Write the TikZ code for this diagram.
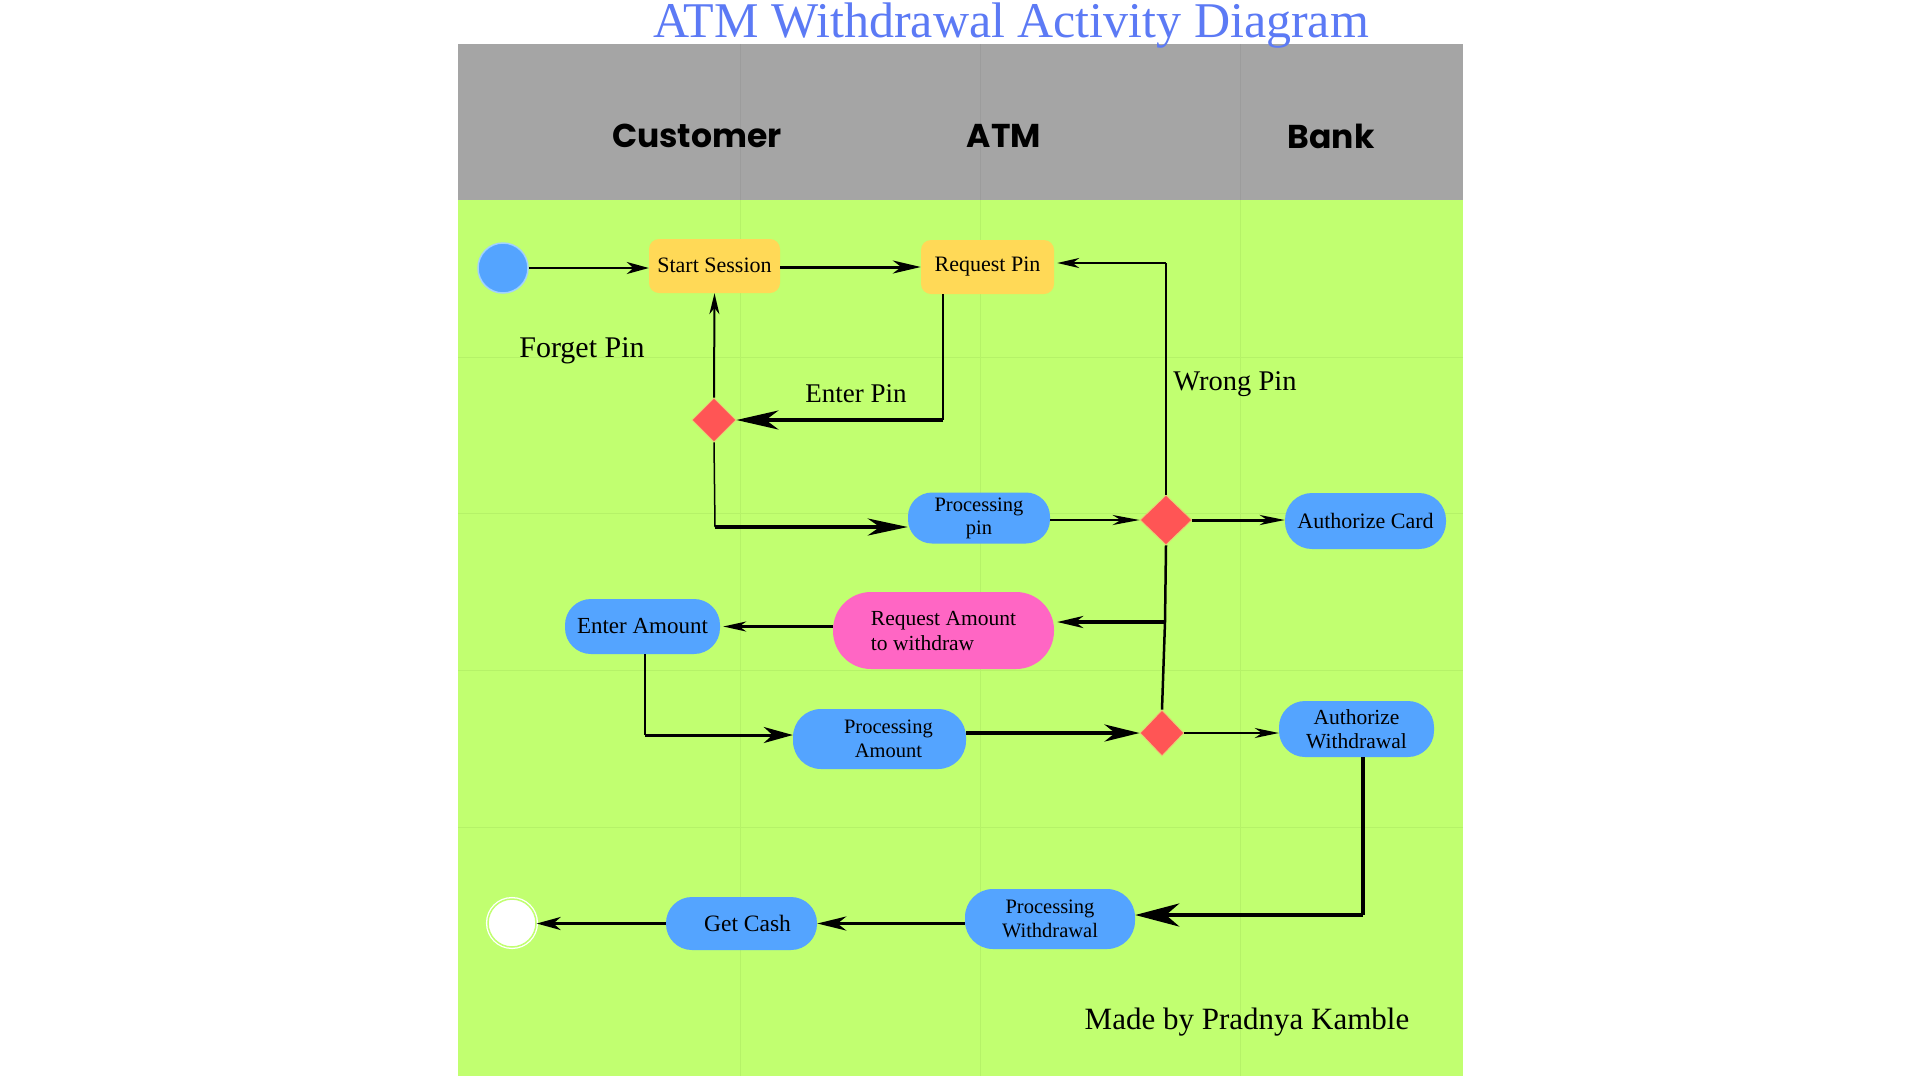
\documentclass[tikz,border=0pt]{standalone}
\usepackage{fontspec}
\setmainfont{Liberation Serif}
\newfontfamily\hdrfont{Poppins}
\usetikzlibrary{arrows.meta,shapes.geometric}
\definecolor{bggreen}{RGB}{193,255,112}
\definecolor{gridgreen}{RGB}{181,242,104}
\definecolor{hdrgray}{RGB}{165,165,165}
\definecolor{gridgray}{RGB}{156,156,156}
\definecolor{actyellow}{RGB}{255,217,87}
\definecolor{actblue}{RGB}{84,164,255}
\definecolor{actpink}{RGB}{255,102,196}
\definecolor{decred}{RGB}{255,85,85}
\definecolor{decedge}{RGB}{232,205,120}
\definecolor{titleblue}{RGB}{92,122,245}
\definecolor{ringblue}{RGB}{160,210,255}
\newcommand\fsz[2]{\fontsize{#1pt}{#2pt}\selectfont}
\tikzset{
  yact/.style={fill=actyellow, rounded corners=10pt, inner sep=0pt, align=center},
  bact/.style={fill=actblue, inner sep=0pt, align=center},
  dec/.style={diamond, fill=decred, draw=decedge, line width=0.8pt, inner sep=0pt},
  lbl/.style={inner sep=0pt},
  lanehdr/.style={inner sep=0pt, font=\hdrfont\bfseries\fsz{33}{33}},
  gridln/.style={line width=1pt},
  conn/.style={draw=black, line cap=butt},
  tipA/.style n args={2}{-{Stealth[length=#1pt,width=#2pt,inset=0.3*#1pt]}}
}
\begin{document}
\begin{tikzpicture}[x=1pt,y=-1pt]
\useasboundingbox (0,0) rectangle (1920,1080);
\fill[white] (0,0) rectangle (1920,1080);
% panels
\fill[hdrgray] (458,44) rectangle (1463,200);
\fill[bggreen] (458,200) rectangle (1463,1076);
% grid
\foreach \gx in {740,980,1240}{
  \draw[gridln,gridgray] (\gx,44) -- (\gx,200);
  \draw[gridln,gridgreen] (\gx,200) -- (\gx,1076);
}
\foreach \gy in {357,513,670,827}{
  \draw[gridln,gridgreen] (458,\gy) -- (1463,\gy);
}
% title
\node[lbl, anchor=base, text=titleblue, font=\fsz{50}{50}] (title) at (1011,37) {ATM Withdrawal Activity Diagram};
% lane headers
\node[lanehdr] (hcust) at (697,136) {Customer};
\node[lanehdr] (hatm) at (1004,136) {ATM};
\node[lanehdr] (hbank) at (1331,136) {Bank};
% nodes
\node[circle, fill=actblue, draw=ringblue, line width=1.5pt, minimum size=50pt, inner sep=0pt] (start) at (503,268) {};
\node[yact, minimum width=131pt, minimum height=54pt, font=\fsz{22}{24}] (sess) at (714.5,266) {\raisebox{2pt}{Start Session}};
\node[yact, minimum width=133pt, minimum height=54pt, font=\fsz{22}{24}] (reqpin) at (987.5,267) {\raisebox{-2pt}{Request Pin}};
\node[dec, minimum width=44pt, minimum height=44pt] (d1) at (714,420) {};
\node[bact, rounded corners=24pt, minimum width=142pt, minimum height=51pt, font=\fsz{20.5}{23}] (procpin) at (979,518) {Processing\\pin};
\node[dec, minimum width=52pt, minimum height=50pt] (d2) at (1166,520) {};
\node[bact, rounded corners=27pt, minimum width=161pt, minimum height=56pt, font=\fsz{22}{24}] (authcard) at (1365.5,521) {Authorize Card};
\node[bact, rounded corners=26pt, minimum width=155pt, minimum height=55pt, font=\fsz{23}{25}] (enteramt) at (642.5,626.5) {Enter Amount};
\node[fill=actpink, rounded corners=38pt, inner sep=0pt, align=left, minimum width=221pt, minimum height=77pt, font=\fsz{21.5}{25}] (reqamt) at (943.5,630.5) {Request Amount\\ to withdraw};
\node[bact, rounded corners=28pt, minimum width=173pt, minimum height=60pt, font=\fsz{20.5}{24}] (procamt) at (879.5,739) {\hspace*{18pt}Processing\\ \hspace*{18pt}Amount};
\node[dec, minimum width=44pt, minimum height=46pt] (d3) at (1162,733) {};
\node[bact, rounded corners=26pt, minimum width=155pt, minimum height=56pt, font=\fsz{21.5}{24}] (authwd) at (1356.5,729) {Authorize\\Withdrawal};
\node[bact, rounded corners=28pt, minimum width=170pt, minimum height=60pt, font=\fsz{20.5}{24}] (procwd) at (1050,919) {Processing\\Withdrawal};
\node[bact, rounded corners=26pt, minimum width=151pt, minimum height=53pt, font=\fsz{23.5}{25}] (getcash) at (741.5,923.5) {\hspace*{12pt}Get Cash};
\node[circle, fill=white, draw=white, double=bggreen, double distance=1.5pt, line width=1.3pt, minimum size=48pt, inner sep=0pt] (endn) at (512,923) {};
% labels
\node[lbl, font=\fsz{30}{30}] (lforget) at (582,351) {Forget Pin};
\node[lbl, font=\fsz{27}{27}] (lenter) at (856,394) {Enter Pin};
\node[lbl, font=\fsz{28.5}{28.5}] (lwrong) at (1235,384) {Wrong Pin};
\node[lbl, font=\fsz{31}{31}] (lmade) at (1247,1022) {Made by Pradnya Kamble};
% corner coordinates
\coordinate (c3) at (943,420);
\coordinate (c5) at (715,527);
\coordinate (c8) at (1166,263);
\coordinate (j1) at (1165,622);
\coordinate (c11) at (645,735);
\coordinate (c14) at (1363,915);
% connectors
\draw[conn, line width=2.5pt, tipA={22}{12}] (start.east) -- (start.east -| sess.west);
\draw[conn, line width=3pt, tipA={28}{13}] (sess.east |- reqpin.west) -- (reqpin.west);
\draw[conn, line width=2.5pt] (reqpin.south -| c3) -- (c3);
\draw[conn, line width=4pt, tipA={42}{19}] (c3) -- (d1.east);
\draw[conn, line width=2pt, tipA={21}{10}] (d1.north) -- (sess.south);
\draw[conn, line width=1.5pt] (d1.south) -- (c5);
\draw[conn, line width=4pt, tipA={40}{17}] (c5) -- (c5 -| procpin.west);
\draw[conn, line width=2.5pt, tipA={27}{10}] (procpin.east |- d2.west) -- (d2.west);
\draw[conn, line width=3pt, tipA={25}{10}] (d2.east) -- (d2.east -| authcard.west);
\draw[conn, line width=2.5pt] (d2.north) -- (c8);
\draw[conn, line width=2.5pt, tipA={22}{10}, shorten >=3pt] (c8) -- (c8 -| reqpin.east);
\draw[conn, line width=2.5pt] (d2.south) -- (j1) -- (d3.north);
\draw[conn, line width=3.5pt, tipA={26}{12}, shorten >=3pt] (j1) -- (j1 -| reqamt.east);
\draw[conn, line width=2.5pt, tipA={23}{10}, shorten >=3pt] (reqamt.west |- enteramt.east) -- (enteramt.east);
\draw[conn, line width=1.5pt] (enteramt.south -| c11) -- (c11);
\draw[conn, line width=3pt, tipA={29}{16}] (c11) -- (c11 -| procamt.west);
\draw[conn, line width=4pt, tipA={35}{17}] (procamt.east |- d3.west) -- (d3.west);
\draw[conn, line width=2.5pt, tipA={24}{10}] (d3.east) -- (d3.east -| authwd.west);
\draw[conn, line width=4.5pt] (authwd.south -| c14) -- (c14);
\draw[conn, line width=4.5pt, tipA={44}{23}] (c14) -- (c14 -| procwd.east);
\draw[conn, line width=3.5pt, tipA={29}{14}] (procwd.west |- getcash.east) -- (getcash.east);
\draw[conn, line width=3pt, tipA={24}{13}] (getcash.west) -- (getcash.west -| endn.east);
\end{tikzpicture}
\end{document}
